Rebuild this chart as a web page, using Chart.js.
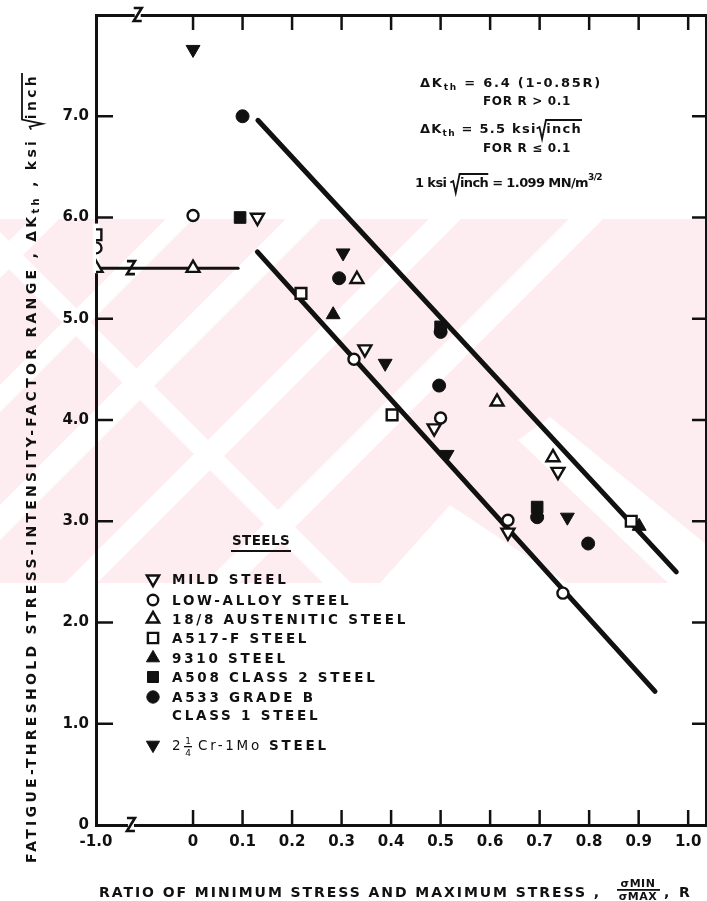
<!DOCTYPE html>
<html>
<head>
<meta charset="utf-8">
<script src="https://cdn.jsdelivr.net/npm/chart.js@4.4.1/dist/chart.umd.min.js"></script>
<style>
  html, body { margin: 0; padding: 0; background: #fff; }
  #wrap { width: 707px; height: 901px; position: relative; }
  canvas { display: block; }
</style>
</head>
<body>
<div id="wrap"><canvas id="chart" width="707" height="901"></canvas></div>
<script>
// Stress ratio R = sigma_min / sigma_max and threshold range dK_th (ksi*sqrt(inch)) per steel.
const mildR      = [0.13, 0.347, 0.487, 0.636, 0.737];
const mildK      = [6.00, 4.70, 3.92, 2.89, 3.49];
const lowAlloyR  = [-1.0, 0.0, 0.325, 0.50, 0.636, 0.747];
const lowAlloyK  = [5.70, 6.02, 4.60, 4.02, 3.01, 2.29];
const austR      = [-1.0, 0.0, 0.331, 0.614, 0.727];
const austK      = [5.50, 5.50, 5.39, 4.18, 3.63];
const a517R      = [-1.0, 0.218, 0.402, 0.885];
const a517K      = [5.83, 5.25, 4.05, 3.00];
const s9310R     = [0.283, 0.901];
const s9310K     = [5.04, 2.95];
const a508R      = [0.095, 0.50, 0.695];
const a508K      = [6.00, 4.92, 3.14];
const a533R      = [0.10, 0.295, 0.50, 0.497, 0.695, 0.798];
const a533K      = [7.00, 5.40, 4.87, 4.34, 3.04, 2.78];
const crMoR      = [0.0, 0.303, 0.388, 0.513, 0.756];
const crMoK      = [7.66, 5.65, 4.56, 3.66, 3.04];

// Scatter-band bounds and the flat threshold for R <= 0.1.
const upperBandR = [0.131, 0.976];
const upperBandK = [6.96, 2.50];
const fitLineR   = [0.13, 0.933];
const fitLineK   = [5.66, 1.32];
const flatLineR  = [-1.0, 0.091];
const flatLineK  = [5.50, 5.50];

// Axis ticks.
const xTickValues = [-1.0, 0, 0.1, 0.2, 0.3, 0.4, 0.5, 0.6, 0.7, 0.8, 0.9, 1.0];
const xTickLabels = ['-1.0', '0', '0.1', '0.2', '0.3', '0.4', '0.5', '0.6', '0.7', '0.8', '0.9', '1.0'];
const yTickValues = [0, 1, 2, 3, 4, 5, 6, 7];
const yTickLabels = ['0', '1.0', '2.0', '3.0', '4.0', '5.0', '6.0', '7.0'];

const seriesNames = ['MILD STEEL', 'LOW-ALLOY STEEL', '18/8 AUSTENITIC STEEL', 'A517-F STEEL',
                     '9310 STEEL', 'A508 CLASS 2 STEEL', 'A533 GRADE B|CLASS 1 STEEL', '2¼ Cr-1Mo STEEL'];

const INK = '#111';
const FAMILY = '"DejaVu Sans", "Liberation Sans", sans-serif';

// The R axis is broken: the whole span -1..0 is squeezed into a short stub.
const NEG_SHARE = 0.196;
class BrokenLinearScale extends Chart.LinearScale {
  static id = 'brokenLinear';
  static defaults = Chart.LinearScale.defaults;
  _squash(v) { return v < 0 ? v * NEG_SHARE : v; }
  getPixelForValue(v) {
    if (v === null || v === undefined || isNaN(v)) return NaN;
    const lo = this._squash(this.min), hi = this._squash(this.max);
    return this.getPixelForDecimal((this._squash(v) - lo) / (hi - lo));
  }
  getValueForPixel(p) {
    const lo = this._squash(this.min), hi = this._squash(this.max);
    const s = lo + this.getDecimalForPixel(p) * (hi - lo);
    return s < 0 ? s / NEG_SHARE : s;
  }
}
Chart.register(BrokenLinearScale);

const pts = (R, K) => R.map((r, i) => ({ x: r, y: K[i] }));

const marker = (name, data, style, opts) => Object.assign({
  type: 'scatter', label: name, data, order: 1,
  pointStyle: style, pointRotation: 0, pointRadius: 6,
  pointBackgroundColor: '#fff', pointBorderColor: INK, pointBorderWidth: 2.2,
  pointHoverRadius: 6
}, opts);
const openM  = { pointBackgroundColor: '#fff', pointBorderWidth: 2.4 };
const solidM = { pointBackgroundColor: INK, pointBorderWidth: 1 };

const markerSets = [
  marker(seriesNames[0], pts(mildR, mildK), 'triangle', Object.assign({ pointRotation: 180, pointRadius: 7.5 }, openM)),
  marker(seriesNames[1], pts(lowAlloyR, lowAlloyK), 'circle', Object.assign({ pointRadius: 5.5 }, openM)),
  marker(seriesNames[2], pts(austR, austK), 'triangle', Object.assign({ pointRadius: 7.5 }, openM)),
  marker(seriesNames[3], pts(a517R, a517K), 'rect', Object.assign({ pointRadius: 7.6 }, openM)),
  marker(seriesNames[4], pts(s9310R, s9310K), 'triangle', Object.assign({ pointRadius: 8 }, solidM)),
  marker(seriesNames[5], pts(a508R, a508K), 'rect', Object.assign({ pointRadius: 8.2 }, solidM)),
  marker(seriesNames[6], pts(a533R, a533K), 'circle', Object.assign({ pointRadius: 6.5 }, solidM)),
  marker(seriesNames[7], pts(crMoR, crMoK), 'triangle', Object.assign({ pointRotation: 180, pointRadius: 8 }, solidM))
];

const trendLine = (data, width) => ({
  type: 'line', data, order: 5, borderColor: INK, borderWidth: width,
  borderCapStyle: 'round', pointRadius: 0, pointHoverRadius: 0, fill: false, tension: 0
});

// ---------- small text helpers ----------
function setFont(ctx, p) {
  ctx.font = `${p.weight || 'bold'} ${p.size}px ${p.family || FAMILY}`;
}
function partsWidth(ctx, parts) {
  let w = 0;
  for (const p of parts) {
    setFont(ctx, p);
    w += ctx.measureText(p.t).width + (p.sqrt ? p.size * 0.75 : 0) + (p.gap || 0);
  }
  return w;
}
function charCount(parts) { return parts.reduce((n, p) => n + [...p.t].length, 0); }
function drawParts(ctx, x, y, parts) {
  let cx = x;
  for (const p of parts) {
    setFont(ctx, p);
    cx += p.gap || 0;
    const w = ctx.measureText(p.t).width;
    if (p.sqrt) {
      const s = p.size;
      ctx.save();
      ctx.lineWidth = 1.8;
      ctx.lineJoin = 'miter';
      ctx.beginPath();
      ctx.moveTo(cx, y - s * 0.35);
      ctx.lineTo(cx + s * 0.22, y - s * 0.45);
      ctx.lineTo(cx + s * 0.42, y + s * 0.45);
      ctx.lineTo(cx + s * 0.72, y - s * 1.0);
      ctx.lineTo(cx + s * 0.75 + w, y - s * 1.0);
      ctx.stroke();
      ctx.restore();
      cx += s * 0.75;
    }
    ctx.fillText(p.t, cx, y + (p.dy || 0));
    cx += w;
  }
  return cx - x;
}
function fitSpacing(ctx, parts, target) {
  ctx.letterSpacing = '0px';
  const w0 = partsWidth(ctx, parts);
  return (target - w0) / charCount(parts);
}
function spacedRun(ctx, x, y, parts, target) {
  const sp = fitSpacing(ctx, parts, target);
  ctx.letterSpacing = sp + 'px';
  drawParts(ctx, x, y, parts);
  ctx.letterSpacing = '0px';
}

// Faint pink print band with pale diagonal streaks behind the plot.
const printBand = {
  id: 'printBand',
  beforeDraw(chart) {
    const { ctx, width } = chart;
    const top = 219, bottom = 583;
    ctx.save();
    ctx.fillStyle = '#fff';
    ctx.fillRect(0, 0, width, chart.height);
    ctx.beginPath();
    ctx.rect(0, top, width, bottom - top);
    ctx.clip();
    ctx.fillStyle = '#fdedf0';
    ctx.fillRect(0, top, width, bottom - top);
    ctx.fillStyle = '#fff';
    const poly = p => {
      ctx.beginPath();
      ctx.moveTo(p[0][0], p[0][1]);
      for (let i = 1; i < p.length; i++) ctx.lineTo(p[i][0], p[i][1]);
      ctx.closePath(); ctx.fill();
    };
    // streaks rising to the right: x + y between two sums
    const rising = [[250, 278], [385, 412], [505, 540], [648, 680], [788, 822]];
    for (const [s0, s1] of rising) poly([[s0 - top, top], [s1 - top, top], [s1 - bottom, bottom], [s0 - bottom, bottom]]);
    // streaks falling to the right: x - y between two differences
    const falling = [[-260, -232]];
    for (const [d0, d1] of falling) poly([[d0 + top, top], [d1 + top, top], [d1 + bottom, bottom], [d0 + bottom, bottom]]);
    // chevron-shaped clear patches lower right
    poly([[518, 440], [550, 417], [707, 545], [707, 583], [668, 583]]);
    poly([[380, 583], [450, 505], [567, 583]]);
    ctx.restore();
  }
};

function breakGlyph(ctx, x, y) {
  ctx.save();
  ctx.fillStyle = '#fff';
  ctx.fillRect(x - 3, y - 2.5, 6, 5);
  ctx.strokeStyle = INK;
  ctx.lineWidth = 2.6;
  ctx.beginPath();
  ctx.moveTo(x - 4, y - 7); ctx.lineTo(x + 4, y - 7);
  ctx.lineTo(x - 4, y + 6); ctx.lineTo(x + 4, y + 6);
  ctx.stroke();
  ctx.restore();
}

// Inward tick marks on all four sides and the axis-break marks.
const frameMarks = {
  id: 'frameMarks',
  beforeDatasetsDraw(chart) {
    const { ctx, chartArea: a } = chart;
    const xs = chart.scales.x, ys = chart.scales.y;
    ctx.save();
    // the left spine is interrupted where the R = -1 results sit on it
    ctx.fillStyle = '#fff';
    ctx.fillRect(a.left - 3, ys.getPixelForValue(5.94), 6, ys.getPixelForValue(5.45) - ys.getPixelForValue(5.94));
    ctx.strokeStyle = INK;
    ctx.lineWidth = 2.5;
    const seg = (x1, y1, x2, y2) => { ctx.beginPath(); ctx.moveTo(x1, y1); ctx.lineTo(x2, y2); ctx.stroke(); };
    xTickValues.filter(v => v >= 0).forEach(v => {
      const px = xs.getPixelForValue(v);
      seg(px, a.bottom, px, a.bottom - 15);
      seg(px, a.top, px, a.top + 15);
    });
    yTickValues.filter(v => v > 0).forEach(v => {
      const py = ys.getPixelForValue(v);
      seg(a.left, py, a.left + 17, py);
      seg(a.right, py, a.right - 14, py);
    });
    ctx.restore();
    breakGlyph(ctx, xs.getPixelForValue(-0.64), a.bottom);
    breakGlyph(ctx, xs.getPixelForValue(-0.57), a.top);
    breakGlyph(ctx, xs.getPixelForValue(-0.64), ys.getPixelForValue(5.5));
  }
};

// Axis titles, formula notes and the symbol key.
const annotations = {
  id: 'annotations',
  afterDraw(chart) {
    const { ctx } = chart;
    ctx.save();
    ctx.fillStyle = INK;
    ctx.strokeStyle = INK;
    ctx.textBaseline = 'alphabetic';
    ctx.textAlign = 'left';

    // vertical title
    ctx.save();
    ctx.translate(36, 863);
    ctx.rotate(-Math.PI / 2);
    spacedRun(ctx, 0, 0, [
      { t: 'FATIGUE-THRESHOLD STRESS-INTENSITY-FACTOR RANGE , \u0394K', size: 14 },
      { t: 'th', size: 10, dy: 3 },
      { t: ' , ksi ', size: 14 },
      { t: 'inch', size: 14, sqrt: true }
    ], 790);
    ctx.restore();

    // horizontal title
    spacedRun(ctx, 99, 897, [{ t: 'RATIO OF MINIMUM STRESS AND MAXIMUM STRESS ,', size: 14 }], 502);
    ctx.textAlign = 'center';
    ctx.letterSpacing = '0.5px';
    setFont(ctx, { size: 11 });
    ctx.fillText('\u03C3MIN', 638, 887);
    ctx.fillText('\u03C3MAX', 638, 900);
    ctx.fillRect(617, 889, 43, 1.8);
    ctx.textAlign = 'left';
    ctx.letterSpacing = '0px';
    spacedRun(ctx, 664, 897, [{ t: ', R', size: 14 }], 28);

    // formula notes
    spacedRun(ctx, 420, 87, [
      { t: '\u0394K', size: 13 }, { t: 'th', size: 9, dy: 3 },
      { t: ' = 6.4 (1-0.85R)', size: 13 }
    ], 182);
    spacedRun(ctx, 483, 105, [{ t: 'FOR R > 0.1', size: 12 }], 88);
    spacedRun(ctx, 420, 133, [
      { t: '\u0394K', size: 13 }, { t: 'th', size: 9, dy: 3 },
      { t: ' = 5.5 ksi', size: 13 }, { t: 'inch', size: 13, sqrt: true }
    ], 162);
    spacedRun(ctx, 483, 152, [{ t: 'FOR R \u2264 0.1', size: 12 }], 88);
    spacedRun(ctx, 415, 187, [
      { t: '1 ksi ', size: 13 }, { t: 'inch', size: 13, sqrt: true },
      { t: ' = 1.099 MN/m', size: 13 }, { t: '3/2', size: 9, dy: -7 }
    ], 187);

    // key
    spacedRun(ctx, 232, 545, [{ t: 'STEELS', size: 13.5 }], 58);
    ctx.fillRect(231, 550, 60, 2);

    const rows = [579, 600, 619, 638, 658, 677, 697, 745];
    const textX = 172, symX = 153, keySize = 13.5;
    const legendSpacing = fitSpacing(ctx, [{ t: seriesNames[2], size: keySize }], 236);
    markerSets.forEach((ds, i) => {
      const y = rows[i];
      ctx.fillStyle = ds.pointBackgroundColor;
      ctx.strokeStyle = INK;
      ctx.lineWidth = ds.pointBorderWidth;
      Chart.helpers.drawPoint(ctx, {
        pointStyle: ds.pointStyle, rotation: ds.pointRotation,
        radius: ds.pointRadius * 0.95, borderWidth: ds.pointBorderWidth
      }, symX, y);
      ctx.fillStyle = INK;
      ctx.letterSpacing = legendSpacing + 'px';
      if (i === 7) {
        drawParts(ctx, textX, y + 5, [{ t: '2', size: keySize, weight: 'normal' }]);
        ctx.letterSpacing = '0px';
        setFont(ctx, { size: 9, weight: 'normal' });
        ctx.textAlign = 'center';
        ctx.fillText('1', textX + 16, y - 1);
        ctx.fillText('4', textX + 16, y + 11);
        ctx.fillRect(textX + 12, y + 1, 8, 1.3);
        ctx.textAlign = 'left';
        ctx.letterSpacing = legendSpacing + 'px';
        drawParts(ctx, textX + 26, y + 5, [
          { t: 'Cr-1Mo ', size: keySize, weight: 'normal' }, { t: 'STEEL', size: keySize }
        ]);
      } else {
        seriesNames[i].split('|').forEach((line, k) => {
          drawParts(ctx, textX, y + 5 + k * 18, [{ t: line, size: keySize }]);
        });
      }
      ctx.letterSpacing = '0px';
    });
    ctx.restore();
  }
};

const tickFont = { family: FAMILY, size: 15, weight: 'bold' };
const noPad = s => { s.paddingLeft = 0; s.paddingRight = 0; s.paddingTop = 0; s.paddingBottom = 0; };

new Chart(document.getElementById('chart'), {
  data: {
    datasets: [
      trendLine(pts(upperBandR, upperBandK), 5),
      trendLine(pts(fitLineR, fitLineK), 5),
      trendLine(pts(flatLineR, flatLineK), 3),
      ...markerSets
    ]
  },
  options: {
    responsive: false,
    animation: false,
    devicePixelRatio: 1,
    layout: { padding: 0, autoPadding: false },
    plugins: { legend: { display: false }, tooltip: { enabled: false } },
    scales: {
      x: {
        type: 'brokenLinear', position: 'bottom', min: -1.0, max: 1.036,
        afterBuildTicks: s => { s.ticks = xTickValues.map(v => ({ value: v })); },
        afterFit: s => { s.height = 76; noPad(s); },
        grid: { drawOnChartArea: false, drawTicks: false },
        border: { display: true, color: INK, width: 3 },
        ticks: { autoSkip: false, maxRotation: 0, padding: 8, color: INK, font: tickFont,
                 callback: (v, i) => xTickLabels[i] }
      },
      xTop: {
        type: 'brokenLinear', position: 'top', min: -1.0, max: 1.036,
        afterFit: s => { s.height = 15; noPad(s); },
        grid: { drawOnChartArea: false, drawTicks: false },
        border: { display: true, color: INK, width: 3 },
        ticks: { display: false }
      },
      y: {
        type: 'linear', position: 'left', min: 0, max: 8,
        afterBuildTicks: s => { s.ticks = yTickValues.map(v => ({ value: v })); },
        afterFit: s => { s.width = 96; noPad(s); },
        grid: { drawOnChartArea: false, drawTicks: false },
        border: { display: true, color: INK, width: 3 },
        ticks: { padding: 7, color: INK, font: tickFont, callback: (v, i) => yTickLabels[i] }
      },
      yRight: {
        type: 'linear', position: 'right', min: 0, max: 8,
        afterFit: s => { s.width = 1; noPad(s); },
        grid: { drawOnChartArea: false, drawTicks: false },
        border: { display: true, color: INK, width: 3 },
        ticks: { display: false }
      }
    }
  },
  plugins: [printBand, frameMarks, annotations]
});
</script>
</body>
</html>
